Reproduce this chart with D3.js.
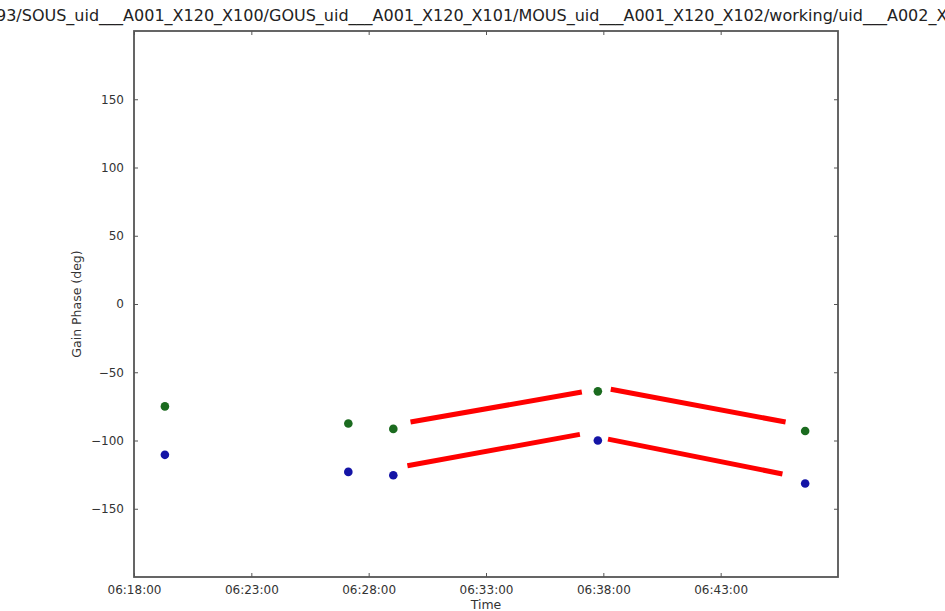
<!DOCTYPE html>
<html>
<head>
<meta charset="utf-8">
<script src="https://cdn.jsdelivr.net/npm/d3@7"></script>
<style>
  html, body { margin: 0; padding: 0; background: #fff; overflow: hidden; }
  svg { display: block; font-family: "DejaVu Sans", sans-serif; }
</style>
</head>
<body>
<svg id="chart" width="945" height="611"></svg>
<script>
// Solution times and gain phases for the two polarisations
const times = ["06:19:19", "06:27:08", "06:29:03", "06:37:46", "06:46:36"];
const phaseX = [-75, -87.5, -91.5, -64, -93];
const phaseY = [-110.5, -123, -125.5, -100, -131.5];

// Highlight segments drawn over the phase trend (start time, start phase, end time, end phase)
const segStartTimes = ["06:29:47", "06:38:19", "06:29:39", "06:38:12"];
const segStartPhase = [-86.5, -62.5, -118.5, -99];
const segEndTimes = ["06:37:05", "06:45:46", "06:37:00", "06:45:38"];
const segEndPhase = [-64.5, -86.5, -95.5, -124.5];

// Axis settings
const timeDomain = ["06:18:00", "06:48:00"];
const timeTicks = ["06:18:00", "06:23:00", "06:28:00", "06:33:00", "06:38:00", "06:43:00"];
const phaseDomain = [-200, 200];
const phaseTicks = [-150, -100, -50, 0, 50, 100, 150];

const titleText = "93/SOUS_uid___A001_X120_X100/GOUS_uid___A001_X120_X101/MOUS_uid___A001_X120_X102/working/uid___A002_Xb";

const parseTime = d3.timeParse("%H:%M:%S");
const fmtTime = d3.timeFormat("%H:%M:%S");

const svg = d3.select("#chart");
const plotLeft = 134, plotRight = 838, plotTop = 31, plotBottom = 577;

const x = d3.scaleTime().domain(timeDomain.map(parseTime)).range([plotLeft, plotRight]);
const y = d3.scaleLinear().domain(phaseDomain).range([plotBottom, plotTop]);

const frameColor = "#555";
const tickLen = 4;

// Title (long path, runs past both edges of the figure)
svg.append("text")
  .attr("x", -4).attr("y", 21)
  .attr("font-size", 16)
  .attr("fill", "#222")
  .text(titleText);

// Axes with inward ticks on all four sides
function styleAxis(g) {
  g.select(".domain").remove();
  g.selectAll(".tick line").attr("stroke", frameColor).attr("stroke-width", 1);
  g.selectAll(".tick text").attr("fill", "#333").attr("font-size", 12).attr("font-family", "DejaVu Sans, sans-serif");
}

svg.append("g").attr("transform", `translate(0,${plotBottom})`)
  .call(d3.axisBottom(x).tickValues(timeTicks.map(parseTime)).tickFormat(fmtTime).tickSizeInner(-tickLen).tickPadding(8))
  .call(styleAxis);
svg.append("g").attr("transform", `translate(0,${plotTop})`)
  .call(d3.axisTop(x).tickValues(timeTicks.map(parseTime)).tickFormat("").tickSizeInner(-tickLen))
  .call(styleAxis);
svg.append("g").attr("transform", `translate(${plotLeft},0)`)
  .call(d3.axisLeft(y).tickValues(phaseTicks).tickFormat(d => d < 0 ? "\u2212" + Math.abs(d) : d).tickSizeInner(-tickLen).tickPadding(10))
  .call(styleAxis);
svg.append("g").attr("transform", `translate(${plotRight},0)`)
  .call(d3.axisRight(y).tickValues(phaseTicks).tickFormat("").tickSizeInner(-tickLen))
  .call(styleAxis);

// Frame
svg.append("rect")
  .attr("x", plotLeft).attr("y", plotTop)
  .attr("width", plotRight - plotLeft).attr("height", plotBottom - plotTop)
  .attr("fill", "none").attr("stroke", frameColor).attr("stroke-width", 1.8);

// Axis labels
svg.append("text")
  .attr("x", (plotLeft + plotRight) / 2).attr("y", 609)
  .attr("text-anchor", "middle").attr("font-size", 12.5).attr("fill", "#333")
  .text("Time");
svg.append("text")
  .attr("transform", `translate(81,${(y(150) + y(-150)) / 2}) rotate(-90)`)
  .attr("text-anchor", "middle").attr("font-size", 12.5).attr("fill", "#333")
  .text("Gain Phase (deg)");

// Highlight segments
const segs = segStartTimes.map((t, i) => ({
  x1: parseTime(t), y1: segStartPhase[i], x2: parseTime(segEndTimes[i]), y2: segEndPhase[i]
}));
svg.append("g").selectAll("line").data(segs).join("line")
  .attr("x1", d => x(d.x1)).attr("y1", d => y(d.y1))
  .attr("x2", d => x(d.x2)).attr("y2", d => y(d.y2))
  .attr("stroke", "#ff0000").attr("stroke-width", 5);

// Phase points
const ptsX = times.map((t, i) => ({ t: parseTime(t), v: phaseX[i] }));
const ptsY = times.map((t, i) => ({ t: parseTime(t), v: phaseY[i] }));
svg.append("g").selectAll("circle").data(ptsX).join("circle")
  .attr("cx", d => x(d.t)).attr("cy", d => y(d.v)).attr("r", 4.3)
  .attr("fill", "#1b6b1f");
svg.append("g").selectAll("circle").data(ptsY).join("circle")
  .attr("cx", d => x(d.t)).attr("cy", d => y(d.v)).attr("r", 4.3)
  .attr("fill", "#1414a6");
</script>
</body>
</html>
